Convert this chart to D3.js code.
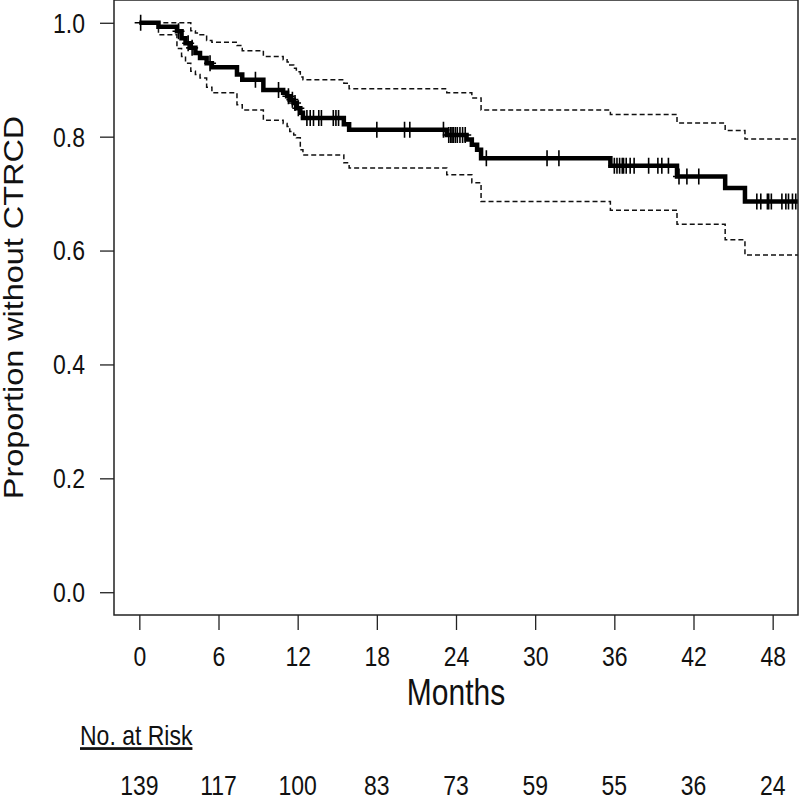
<!DOCTYPE html>
<html>
<head>
<meta charset="utf-8">
<script src="https://cdn.jsdelivr.net/npm/d3@7"></script>
<style>
  body { margin: 0; background: #fff; }
  text { font-family: "Liberation Sans", Arial, Helvetica, sans-serif; fill: #111; }
</style>
</head>
<body>
<div id="km"></div>
<script>
// Kaplan-Meier estimate: event times (months), survival and 95% CI after each step
const eventTimes = [1.45, 2.85, 3.2, 3.5, 3.9, 4.25, 4.6, 5.1, 5.5, 7.4, 7.8, 9.4, 10.9, 11.2, 11.4, 11.7, 11.9, 12.2, 12.4, 15.5, 15.9, 23.3, 24.8, 25.2, 25.6, 25.9, 35.7, 40.75, 44.4, 45.9];
const survival   = [0.993, 0.985, 0.973, 0.964, 0.956, 0.947, 0.938, 0.929, 0.922, 0.909, 0.900, 0.882, 0.877, 0.871, 0.865, 0.859, 0.850, 0.842, 0.833, 0.822, 0.812, 0.803, 0.795, 0.786, 0.777, 0.762, 0.749, 0.730, 0.710, 0.686];
const upperCI    = [1.000, 1.000, 1.000, 1.000, 0.986, 0.982, 0.979, 0.969, 0.966, 0.960, 0.951, 0.941, 0.935, 0.931, 0.926, 0.920, 0.914, 0.905, 0.900, 0.894, 0.884, 0.877, 0.877, 0.868, 0.868, 0.847, 0.839, 0.824, 0.811, 0.796];
const lowerCI    = [0.979, 0.955, 0.941, 0.929, 0.915, 0.909, 0.903, 0.887, 0.877, 0.856, 0.847, 0.829, 0.823, 0.818, 0.809, 0.803, 0.798, 0.777, 0.768, 0.754, 0.745, 0.733, 0.733, 0.719, 0.719, 0.686, 0.671, 0.646, 0.619, 0.592];

// censored observations (months)
const censorTimes = [0.1, 2.97, 3.7, 4.0, 5.36, 8.8, 10.55, 11.3, 11.6, 11.8, 12.05, 12.7, 12.95, 13.2, 13.6, 13.8, 14.7, 14.9, 15.1, 18.0, 20.1, 20.5, 23.05, 23.45, 23.6, 23.7, 23.8, 23.95, 24.1, 24.3, 24.5, 24.7, 26.3, 30.9, 31.8, 36.0, 36.2, 36.4, 36.6, 36.7, 36.9, 37.2, 37.5, 38.6, 39.3, 39.6, 40.1, 40.9, 41.5, 42.4, 46.8, 47.1, 47.6, 47.7, 47.9, 48.7, 49.0, 49.2, 49.5, 49.75];
const lastFollowUp = 49.95;

// axis ticks and number at risk
const monthTicks = [0, 6, 12, 18, 24, 30, 36, 42, 48];
const atRisk = [139, 117, 100, 83, 73, 59, 55, 36, 24];
const yTicks = [0, 0.2, 0.4, 0.6, 0.8, 1.0];

const W = 800, H = 802;
const k = 1.2; // the original figure is stretched vertically
const frame = {left: 114, right: 798, top: 0, bottom: 615};

const svg = d3.select("#km").append("svg")
    .attr("width", W)
    .attr("height", H);

const x = d3.scaleLinear().domain([-1.92, 49.92]).range([frame.left, frame.right]);
const y = d3.scaleLinear().domain([-0.04, 1.04]).range([frame.bottom, frame.top]);

svg.append("clipPath").attr("id", "plot-clip")
  .append("rect")
    .attr("x", frame.left).attr("y", frame.top)
    .attr("width", frame.right - frame.left)
    .attr("height", frame.bottom - frame.top);

// build step series
function series(values) {
    const pts = [{t: 0, v: 1}];
    eventTimes.forEach((t, i) => pts.push({t: t, v: values[i]}));
    pts.push({t: lastFollowUp, v: values[values.length - 1]});
    return pts;
}
const step = d3.line()
    .x(d => x(d.t))
    .y(d => y(d.v))
    .curve(d3.curveStepAfter);

const plot = svg.append("g").attr("clip-path", "url(#plot-clip)");

[upperCI, lowerCI].forEach(ci => {
    plot.append("path")
        .datum(series(ci))
        .attr("fill", "none")
        .attr("stroke", "#111")
        .attr("stroke-width", 1.5)
        .attr("stroke-dasharray", "5,3")
        .attr("d", step);
});

plot.append("path")
    .datum(series(survival))
    .attr("fill", "none")
    .attr("stroke", "#000")
    .attr("stroke-width", 4.5)
    .attr("stroke-linejoin", "miter")
    .attr("d", step);

// censor marks sit on the curve
const survAt = t => {
    const i = d3.bisectRight(eventTimes, t);
    return i === 0 ? 1 : survival[i - 1];
};
plot.selectAll(".censor")
    .data(censorTimes)
    .enter()
    .append("path")
    .attr("class", "censor")
    .attr("transform", d => `translate(${x(d)},${y(survAt(d))})`)
    .attr("d", "M-6,0H6M0,-8V8")
    .attr("stroke", "#000")
    .attr("stroke-width", 1.6);

// frame
svg.append("rect")
    .attr("x", frame.left).attr("y", frame.top)
    .attr("width", frame.right - frame.left)
    .attr("height", frame.bottom - frame.top)
    .attr("fill", "none")
    .attr("stroke", "#222")
    .attr("stroke-width", 1.5);

// y axis
const yAxis = svg.append("g")
    .attr("transform", `translate(${frame.left},0)`)
    .call(d3.axisLeft(y).tickValues(yTicks).tickFormat(d3.format(".1f")).tickSize(14).tickPadding(15));
yAxis.select(".domain").remove();
yAxis.selectAll("line").attr("stroke", "#222").attr("stroke-width", 1.3);
yAxis.selectAll("text")
    .attr("dy", "0.34em")
    .attr("transform", `scale(1,${k})`)
    .style("font-size", "23px")
    .style("font-family", null);

// x axis
const xAxis = svg.append("g")
    .attr("transform", `translate(0,${frame.bottom})`)
    .call(d3.axisBottom(x).tickValues(monthTicks).tickSize(15));
xAxis.select(".domain").remove();
xAxis.selectAll("line").attr("stroke", "#222").attr("stroke-width", 1.3);
xAxis.selectAll("text")
    .attr("y", null).attr("dy", null)
    .attr("transform", `translate(0,51) scale(1,${k})`)
    .style("font-size", "23px")
    .style("font-family", null);

// helper for stretched text
function label(px, py, str, size, anchor) {
    return svg.append("text")
        .attr("transform", `translate(${px},${py}) scale(1,${k})`)
        .attr("text-anchor", anchor)
        .style("font-size", size + "px")
        .text(str);
}

label((frame.left + frame.right) / 2, 705, "Months", 30, "middle");

// y axis title
svg.append("text")
    .attr("transform", `translate(23,${(frame.top + frame.bottom) / 2}) rotate(-90) scale(${k},1)`)
    .attr("text-anchor", "middle")
    .style("font-size", "27px")
    .text("Proportion without CTRCD");

// number at risk table
label(80, 745, "No. at Risk", 23, "start")
    .attr("text-decoration", "underline");

monthTicks.forEach((m, i) => {
    label(x(m), 795, atRisk[i], 23, "middle");
});
</script>
</body>
</html>
